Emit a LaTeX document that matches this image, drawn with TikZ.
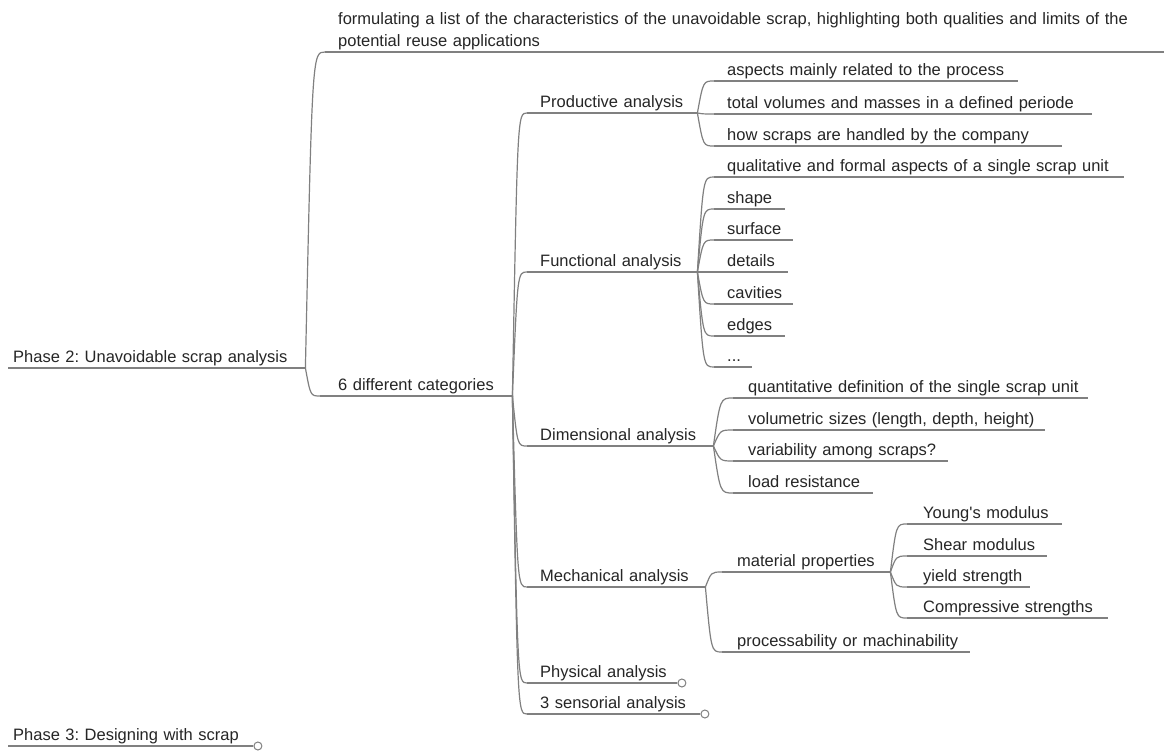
\documentclass[tikz,border=0pt]{standalone}
\usepackage{fontspec}
\setmainfont{Liberation Sans}
\frenchspacing
\usetikzlibrary{calc}
\definecolor{linecol}{RGB}{128,128,128}
\definecolor{txtcol}{RGB}{38,38,38}
\begin{document}
\begin{tikzpicture}[x=1pt,y=-1pt,
  pad/.initial=13pt,
  uline/.style={draw=linecol, line width=1.2pt},
  conn/.style={draw=linecol, line width=1.2pt},
  topic/.style={anchor=south west, inner xsep=0pt, inner ysep=0pt, text depth=5pt,
    align=left, text=txtcol, font=\fontsize{16.5}{22}\selectfont\frenchspacing,
    execute at begin node={\hspace*{\pgfkeysvalueof{/tikz/pad}}},
    append after command={(\tikzlastnode.south west) edge[uline] (\tikzlastnode.south east)}},
  branch/.style={to path={.. controls ($(\tikztostart |- \tikztotarget)!0.35!(\tikztotarget)$) .. (\tikztotarget)}},
  collapsed/.style={circle, draw=linecol, fill=white, line width=1pt, minimum size=8pt, inner sep=0pt, anchor=west}
]
\fill[white] (0,0) rectangle (1164,751);
\useasboundingbox (0,0) rectangle (1164,751);

% roots
\node[topic, pad=5pt, text width=297pt] (p2) at (8,368) {\mbox{Phase 2: Unavoidable scrap analysis}};
\node[topic, pad=5pt, text width=245pt] (p3) at (8,746) {\mbox{Phase 3: Designing with scrap}};

% level 1
\node[topic, text width=839pt, text depth=27pt] (form) at (325,52)
  {\mbox{formulating a list of the characteristics of the unavoidable scrap, highlighting both qualities and limits of the}\\\hspace*{13pt}\mbox{potential reuse applications}};
\node[topic, pad=18pt, text width=192pt] (six) at (320,396) {\mbox{6 different categories}};

% level 2
\node[topic, text width=170pt] (prod) at (527,113) {\mbox{Productive analysis}};
\node[topic, text width=170pt] (func) at (527,272) {\mbox{Functional analysis}};
\node[topic, text width=186pt] (dim)  at (527,446) {\mbox{Dimensional analysis}};
\node[topic, text width=178pt] (mech) at (527,587) {\mbox{Mechanical analysis}};
\node[topic, text width=150pt] (phys) at (527,683) {\mbox{Physical analysis}};
\node[topic, text width=173pt] (sens) at (527,714) {\mbox{3 sensorial analysis}};

% productive
\node[topic, text width=304pt] (pa) at (714,81)  {\mbox{aspects mainly related to the process}};
\node[topic, text width=378pt] (pb) at (714,114) {\mbox{total volumes and masses in a defined periode}};
\node[topic, text width=348pt] (pc) at (714,146) {\mbox{how scraps are handled by the company}};

% functional
\node[topic, text width=410pt] (fa) at (714,177) {\mbox{qualitative and formal aspects of a single scrap unit}};
\node[topic, text width=71pt]  (fb) at (714,209) {\mbox{shape}};
\node[topic, text width=79pt]  (fc) at (714,240) {\mbox{surface}};
\node[topic, text width=74pt]  (fd) at (714,272) {\mbox{details}};
\node[topic, text width=79pt]  (fe) at (714,304) {\mbox{cavities}};
\node[topic, text width=71pt]  (ff) at (714,336) {\mbox{edges}};
\node[topic, text width=38pt]  (fg) at (714,367) {\mbox{...}};

% dimensional
\node[topic, pad=15pt, text width=355pt] (da) at (733,398) {\mbox{quantitative definition of the single scrap unit}};
\node[topic, pad=15pt, text width=312pt] (db) at (733,430) {\mbox{volumetric sizes (length, depth, height)}};
\node[topic, pad=15pt, text width=215pt] (dc) at (733,461) {\mbox{variability among scraps?}};
\node[topic, pad=15pt, text width=140pt] (dd) at (733,493) {\mbox{load resistance}};

% mechanical
\node[topic, pad=15pt, text width=168pt] (mm) at (722,572) {\mbox{material properties}};
\node[topic, pad=15pt, text width=248pt] (mp) at (722,652) {\mbox{processability or machinability}};

% material properties
\node[topic, pad=16pt, text width=155pt] (ma) at (907,524) {\mbox{Young\textquotesingle s modulus}};
\node[topic, pad=16pt, text width=140pt] (mb) at (907,556) {\mbox{Shear modulus}};
\node[topic, pad=16pt, text width=123pt] (mc) at (907,587) {\mbox{yield strength}};
\node[topic, pad=16pt, text width=201pt] (md) at (907,618) {\mbox{Compressive strengths}};

% collapsed markers
\node[collapsed] (cphys) at (phys.south east) {};
\node[collapsed] (csens) at (sens.south east) {};
\node[collapsed] (cp3) at (p3.south east) {};

% connectors
\foreach \c in {form,six} \draw[conn] (p2.south east) to[branch] (\c.south west);
\foreach \c in {prod,func,dim,mech,phys,sens} \draw[conn] (six.south east) to[branch] (\c.south west);
\foreach \c in {pa,pb,pc} \draw[conn] (prod.south east) to[branch] (\c.south west);
\foreach \c in {fa,fb,fc,fd,fe,ff,fg} \draw[conn] (func.south east) to[branch] (\c.south west);
\foreach \c in {da,db,dc,dd} \draw[conn] (dim.south east) to[branch] (\c.south west);
\foreach \c in {mm,mp} \draw[conn] (mech.south east) to[branch] (\c.south west);
\foreach \c in {ma,mb,mc,md} \draw[conn] (mm.south east) to[branch] (\c.south west);
\end{tikzpicture}
\end{document}
